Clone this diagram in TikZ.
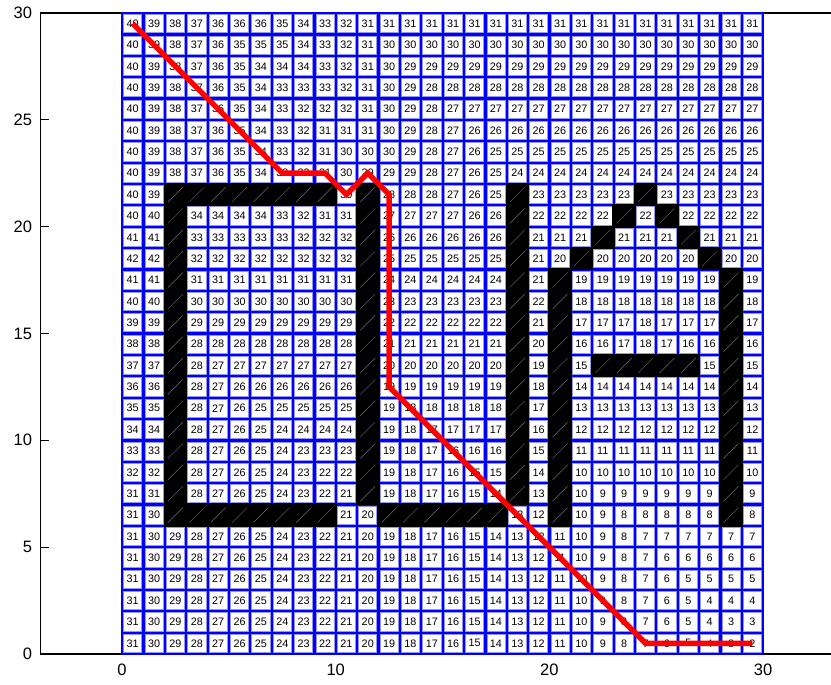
\documentclass[tikz,border=0pt]{standalone}
\usepackage{fontspec}
\setmainfont{Liberation Sans}
\definecolor{boxedge}{RGB}{150,150,235}
\definecolor{hatchgray}{RGB}{110,110,110}
\tikzset{
  cellbox/.style={draw=boxedge, line width=0.5pt, fill=white, minimum size=0.425cm, inner sep=0pt, font=\fontsize{7.2}{8}\selectfont},
  blackcell/.style={fill=black, minimum size=0.55cm, inner sep=0pt},
  hatchline/.style={draw=hatchgray, line width=0.3pt},
  pathline/.style={draw=red, line width=3.6pt},
  axisline/.style={line width=0.8pt},
  tickmark/.style={line width=0.5pt},
  ticklabel/.style={font=\fontsize{11}{13}\selectfont, inner sep=0pt}
}
\begin{document}
\begin{tikzpicture}[x=0.5cm,y=0.5cm]
\useasboundingbox (-5.709,-1.404) rectangle (33.178,30.604);
% axes
\draw[axisline] (33.178,30) -- (-3.81,30) -- (-3.81,0) -- (33.178,0);
\foreach \t in {0,5,10,15,20,25,30} {
  \draw[tickmark] (-3.81,\t) -- (-3.42,\t);
  \node[ticklabel, anchor=east] (ylab\t) at (-4.2,\t) {\t};
}
\foreach \t in {0,10,20,30} {
  \draw[tickmark] (\t,0) -- (\t,0.39);
  \draw[tickmark] (\t,30) -- (\t,29.61);
  \node[ticklabel] (xlab\t) at (\t,-0.72) {\t};
}
% grid background
\fill[blue] (-0.06,-0.06) rectangle (30.06,30.06);
\def\blk{B}
\foreach \rowvals [count=\rr] in {
{40,39,38,37,36,36,36,35,34,33,32,31,31,31,31,31,31,31,31,31,31,31,31,31,31,31,31,31,31,31},
{40,39,38,37,36,35,35,35,34,33,32,31,30,30,30,30,30,30,30,30,30,30,30,30,30,30,30,30,30,30},
{40,39,38,37,36,35,34,34,34,33,32,31,30,29,29,29,29,29,29,29,29,29,29,29,29,29,29,29,29,29},
{40,39,38,37,36,35,34,33,33,33,32,31,30,29,28,28,28,28,28,28,28,28,28,28,28,28,28,28,28,28},
{40,39,38,37,36,35,34,33,32,32,32,31,30,29,28,27,27,27,27,27,27,27,27,27,27,27,27,27,27,27},
{40,39,38,37,36,35,34,33,32,31,31,31,30,29,28,27,26,26,26,26,26,26,26,26,26,26,26,26,26,26},
{40,39,38,37,36,35,34,33,32,31,30,30,30,29,28,27,26,25,25,25,25,25,25,25,25,25,25,25,25,25},
{40,39,38,37,36,35,34,33,32,31,30,29,29,29,28,27,26,25,24,24,24,24,24,24,24,24,24,24,24,24},
{40,39,B,B,B,B,B,B,B,B,30,B,28,28,28,27,26,25,B,23,23,23,23,23,B,23,23,23,23,23},
{40,40,B,34,34,34,34,33,32,31,31,B,27,27,27,27,26,26,B,22,22,22,22,B,22,B,22,22,22,22},
{41,41,B,33,33,33,33,33,32,32,32,B,26,26,26,26,26,26,B,21,21,21,B,21,21,21,B,21,21,21},
{42,42,B,32,32,32,32,32,32,32,32,B,25,25,25,25,25,25,B,21,20,B,20,20,20,20,20,B,20,20},
{41,41,B,31,31,31,31,31,31,31,31,B,24,24,24,24,24,24,B,21,B,19,19,19,19,19,19,19,B,19},
{40,40,B,30,30,30,30,30,30,30,30,B,23,23,23,23,23,23,B,22,B,18,18,18,18,18,18,18,B,18},
{39,39,B,29,29,29,29,29,29,29,29,B,22,22,22,22,22,22,B,21,B,17,17,17,18,17,17,17,B,17},
{38,38,B,28,28,28,28,28,28,28,28,B,21,21,21,21,21,21,B,20,B,16,16,17,18,17,16,16,B,16},
{37,37,B,28,27,27,27,27,27,27,27,B,20,20,20,20,20,20,B,19,B,15,B,B,B,B,B,15,B,15},
{36,36,B,28,27,26,26,26,26,26,26,B,19,19,19,19,19,19,B,18,B,14,14,14,14,14,14,14,B,14},
{35,35,B,28,27,26,25,25,25,25,25,B,19,18,18,18,18,18,B,17,B,13,13,13,13,13,13,13,B,13},
{34,34,B,28,27,26,25,24,24,24,24,B,19,18,17,17,17,17,B,16,B,12,12,12,12,12,12,12,B,12},
{33,33,B,28,27,26,25,24,23,23,23,B,19,18,17,16,16,16,B,15,B,11,11,11,11,11,11,11,B,11},
{32,32,B,28,27,26,25,24,23,22,22,B,19,18,17,16,15,15,B,14,B,10,10,10,10,10,10,10,B,10},
{31,31,B,28,27,26,25,24,23,22,21,B,19,18,17,16,15,14,B,13,B,10,9,9,9,9,9,9,B,9},
{31,30,B,B,B,B,B,B,B,B,21,20,B,B,B,B,B,B,13,12,B,10,9,8,8,8,8,8,B,8},
{31,30,29,28,27,26,25,24,23,22,21,20,19,18,17,16,15,14,13,12,11,10,9,8,7,7,7,7,7,7},
{31,30,29,28,27,26,25,24,23,22,21,20,19,18,17,16,15,14,13,12,11,10,9,8,7,6,6,6,6,6},
{31,30,29,28,27,26,25,24,23,22,21,20,19,18,17,16,15,14,13,12,11,10,9,8,7,6,5,5,5,5},
{31,30,29,28,27,26,25,24,23,22,21,20,19,18,17,16,15,14,13,12,11,10,9,8,7,6,5,4,4,4},
{31,30,29,28,27,26,25,24,23,22,21,20,19,18,17,16,15,14,13,12,11,10,9,8,7,6,5,4,3,3},
{31,30,29,28,27,26,25,24,23,22,21,20,19,18,17,16,15,14,13,12,11,10,9,8,7,6,5,4,3,2}}{
  \foreach \v [count=\cc] in \rowvals {
    \ifx\v\blk
      \node[blackcell] (cell-\rr-\cc) at ({\cc-0.5},{30.5-\rr}) {};
      \draw[hatchline] ([shift={(-0.35,-0.35)}]cell-\rr-\cc.center) -- ([shift={(0.35,0.35)}]cell-\rr-\cc.center);
    \else
      \node[cellbox] (cell-\rr-\cc) at ({\cc-0.5},{30.5-\rr}) {\v};
    \fi
  }
}
% planned path through named cells
\draw[pathline] (cell-1-1.center) -- (cell-8-8.center) -- (cell-8-10.center)
  -- (cell-9-11.center) -- (cell-8-12.center) -- (cell-9-13.center)
  -- (cell-18-13.center) -- (cell-30-25.center) -- (cell-30-30.center);
\end{tikzpicture}
\end{document}
